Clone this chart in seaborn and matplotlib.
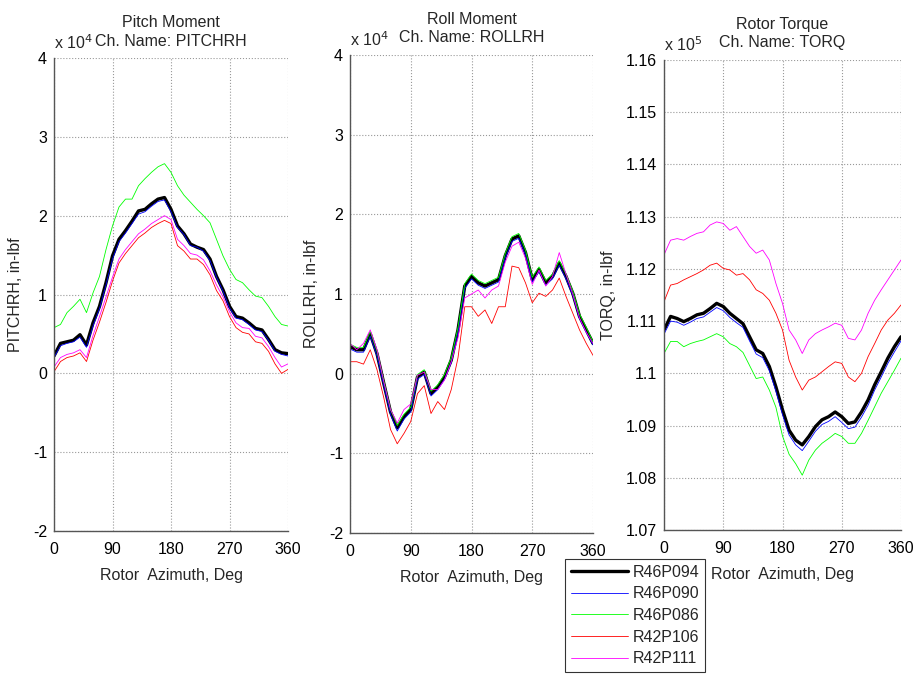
import matplotlib
matplotlib.use("Agg")
import matplotlib.pyplot as plt
import seaborn as sns
from matplotlib.ticker import FuncFormatter

# azimuth grid (deg)
azimuth = list(range(0, 361, 10))

run_names = ["R46P094", "R46P090", "R46P086", "R42P106", "R42P111"]
run_colors = ["black", "#0000ff", "#00ff00", "#ff0000", "#ff00ff"]
run_widths = [2.4, 0.6, 0.6, 0.6, 0.6]

# Pitch moment, x 10^4 in-lbf
pitch_r46p094 = [0.22, 0.38, 0.40, 0.42, 0.49, 0.36, 0.64, 0.85, 1.15, 1.49, 1.70, 1.81, 1.93, 2.06, 2.08, 2.15, 2.21, 2.23, 2.08,
                 1.87, 1.77, 1.64, 1.60, 1.57, 1.45, 1.23, 1.06, 0.85, 0.72, 0.70, 0.64, 0.57, 0.55, 0.43, 0.30, 0.26, 0.25]
pitch_r46p090 = [0.20, 0.35, 0.38, 0.40, 0.46, 0.33, 0.60, 0.82, 1.12, 1.45, 1.67, 1.78, 1.90, 2.02, 2.05, 2.12, 2.18, 2.20, 2.05,
                 1.85, 1.76, 1.62, 1.60, 1.55, 1.43, 1.22, 1.04, 0.83, 0.70, 0.68, 0.62, 0.55, 0.53, 0.42, 0.28, 0.24, 0.22]
pitch_r46p086 = [0.58, 0.62, 0.77, 0.85, 0.94, 0.77, 1.02, 1.23, 1.57, 1.87, 2.11, 2.21, 2.21, 2.38, 2.47, 2.55, 2.62, 2.66, 2.55,
                 2.38, 2.26, 2.17, 2.08, 2.00, 1.91, 1.70, 1.49, 1.32, 1.19, 1.15, 1.06, 0.98, 0.96, 0.85, 0.72, 0.62, 0.60]
pitch_r42p106 = [0.02, 0.15, 0.20, 0.22, 0.26, 0.15, 0.42, 0.65, 0.90, 1.17, 1.40, 1.52, 1.62, 1.72, 1.78, 1.85, 1.90, 1.94, 1.90,
                 1.62, 1.55, 1.45, 1.45, 1.38, 1.25, 1.05, 0.92, 0.72, 0.58, 0.52, 0.50, 0.40, 0.38, 0.28, 0.12, 0.00, 0.05]
pitch_r42p111 = [0.08, 0.20, 0.24, 0.26, 0.30, 0.20, 0.48, 0.72, 0.97, 1.22, 1.45, 1.57, 1.67, 1.77, 1.83, 1.90, 1.95, 2.00, 1.95,
                 1.70, 1.62, 1.52, 1.50, 1.44, 1.30, 1.12, 0.97, 0.78, 0.64, 0.58, 0.57, 0.47, 0.45, 0.34, 0.20, 0.08, 0.12]

# Roll moment, x 10^4 in-lbf
roll_r46p094 = [0.34, 0.30, 0.30, 0.50, 0.25, -0.12, -0.48, -0.68, -0.54, -0.45, -0.04, 0.02, -0.25, -0.17, -0.04, 0.17, 0.55, 1.10, 1.22,
                1.14, 1.10, 1.14, 1.18, 1.48, 1.69, 1.73, 1.52, 1.18, 1.31, 1.14, 1.22, 1.39, 1.22, 1.01, 0.72, 0.55, 0.38]
roll_r46p090 = [0.31, 0.27, 0.27, 0.47, 0.22, -0.15, -0.51, -0.72, -0.57, -0.48, -0.07, -0.01, -0.28, -0.20, -0.07, 0.14, 0.52, 1.07, 1.19,
                1.11, 1.07, 1.11, 1.15, 1.45, 1.66, 1.70, 1.49, 1.15, 1.28, 1.11, 1.19, 1.36, 1.19, 0.98, 0.69, 0.52, 0.36]
roll_r46p086 = [0.37, 0.33, 0.33, 0.53, 0.28, -0.09, -0.45, -0.65, -0.51, -0.42, -0.01, 0.05, -0.22, -0.14, -0.01, 0.20, 0.58, 1.13, 1.25,
                1.17, 1.13, 1.17, 1.21, 1.51, 1.72, 1.76, 1.55, 1.21, 1.34, 1.17, 1.25, 1.42, 1.25, 1.04, 0.75, 0.58, 0.40]
roll_r42p106 = [0.15, 0.15, 0.12, 0.30, 0.05, -0.30, -0.70, -0.88, -0.75, -0.60, -0.25, -0.15, -0.50, -0.35, -0.45, -0.20, 0.20, 0.84, 0.84,
                0.72, 0.80, 0.63, 0.84, 0.84, 1.35, 1.33, 1.14, 0.89, 1.01, 0.97, 1.05, 1.20, 0.97, 0.76, 0.55, 0.38, 0.23]
roll_r42p111 = [0.38, 0.30, 0.38, 0.55, 0.30, -0.10, -0.45, -0.62, -0.45, -0.38, -0.02, 0.02, -0.20, -0.20, -0.08, 0.15, 0.45, 0.95, 1.00,
                1.05, 0.95, 1.05, 1.10, 1.40, 1.60, 1.65, 1.45, 1.12, 1.30, 1.10, 1.22, 1.52, 1.25, 1.00, 0.70, 0.52, 0.38]

# Rotor torque, x 10^5 in-lbf
torq_r46p094 = [1.1083, 1.1109, 1.1105, 1.1099, 1.1105, 1.1112, 1.1115, 1.1124, 1.1134, 1.1128, 1.1115, 1.1105, 1.1095,
                1.1070, 1.1045, 1.1038, 1.1013, 1.0974, 1.0930, 1.0891, 1.0872, 1.0863, 1.0879, 1.0898, 1.0911, 1.0917,
                1.0926, 1.0917, 1.0904, 1.0907, 1.0926, 1.0949, 1.0978, 1.1003, 1.1029, 1.1051, 1.1070]
torq_r46p090 = [1.1075, 1.1100, 1.1098, 1.1092, 1.1098, 1.1105, 1.1108, 1.1117, 1.1126, 1.1120, 1.1107, 1.1097, 1.1088,
                1.1062, 1.1037, 1.1030, 1.1005, 1.0966, 1.0921, 1.0882, 1.0863, 1.0852, 1.0870, 1.0889, 1.0902, 1.0908,
                1.0917, 1.0906, 1.0894, 1.0897, 1.0916, 1.0939, 1.0968, 1.0993, 1.1019, 1.1041, 1.1062]
torq_r46p086 = [1.1038, 1.1061, 1.1061, 1.1051, 1.1057, 1.1061, 1.1064, 1.1070, 1.1076, 1.1070, 1.1057, 1.1051, 1.1040,
                1.1015, 1.0990, 1.0993, 1.0968, 1.0935, 1.0880, 1.0845, 1.0827, 1.0805, 1.0834, 1.0853, 1.0866, 1.0875,
                1.0885, 1.0879, 1.0866, 1.0866, 1.0885, 1.0910, 1.0936, 1.0962, 1.0984, 1.1006, 1.1029]
torq_r42p106 = [1.1137, 1.1169, 1.1172, 1.1179, 1.1185, 1.1191, 1.1198, 1.1207, 1.1211, 1.1201, 1.1198, 1.1188, 1.1191,
                1.1179, 1.1160, 1.1153, 1.1140, 1.1115, 1.1083, 1.1025, 1.0993, 1.0968, 1.0987, 1.0993, 1.1003, 1.1013,
                1.1022, 1.1019, 1.0993, 1.0984, 1.1000, 1.1032, 1.1057, 1.1083, 1.1102, 1.1115, 1.1131]
torq_r42p111 = [1.1227, 1.1255, 1.1258, 1.1255, 1.1262, 1.1268, 1.1271, 1.1284, 1.1290, 1.1287, 1.1274, 1.1281, 1.1262,
                1.1243, 1.1230, 1.1236, 1.1217, 1.1172, 1.1134, 1.1083, 1.1064, 1.1038, 1.1064, 1.1076, 1.1083, 1.1089,
                1.1096, 1.1092, 1.1067, 1.1064, 1.1083, 1.1115, 1.1140, 1.1160, 1.1179, 1.1198, 1.1217]

panels = [
    ("Pitch Moment\nCh. Name: PITCHRH", "PITCHRH, in-lbf", 4,
     [pitch_r46p094, pitch_r46p090, pitch_r46p086, pitch_r42p106, pitch_r42p111], (-2, 4), [-2, -1, 0, 1, 2, 3, 4]),
    ("Roll Moment\nCh. Name: ROLLRH", "ROLLRH, in-lbf", 4,
     [roll_r46p094, roll_r46p090, roll_r46p086, roll_r42p106, roll_r42p111], (-2, 4), [-2, -1, 0, 1, 2, 3, 4]),
    ("Rotor Torque\nCh. Name: TORQ", "TORQ, in-lbf", 5,
     [torq_r46p094, torq_r46p090, torq_r46p086, torq_r42p106, torq_r42p111], (1.07, 1.16),
     [1.07, 1.08, 1.09, 1.10, 1.11, 1.12, 1.13, 1.14, 1.15, 1.16]),
]

sns.set_theme(style="white")
plt.rcParams["font.family"] = ["Liberation Sans", "DejaVu Sans"]
plt.rcParams["font.size"] = 11.5

fig = plt.figure(figsize=(9.14, 6.79), dpi=100)
axes_pos = [
    [54 / 914, 1 - 531 / 679, 234 / 914, 473 / 679],
    [350 / 914, 1 - 533 / 679, 243 / 914, 478 / 679],
    [664 / 914, 1 - 530 / 679, 237 / 914, 470 / 679],
]

for pos, (title, ylabel, expo, series, ylim, yticks) in zip(axes_pos, panels):
    ax = fig.add_axes(pos)
    for name, color, lw, vals in zip(run_names, run_colors, run_widths, series):
        sns.lineplot(x=azimuth, y=vals, ax=ax, color=color, linewidth=lw, label=name, legend=False)
    ax.set_xlim(0, 360)
    ax.set_ylim(*ylim)
    ax.set_xticks([0, 90, 180, 270, 360])
    ax.set_yticks(yticks)
    ax.yaxis.set_major_formatter(FuncFormatter(lambda v, p: "%g" % round(v, 4)))
    ax.grid(True, linestyle=":", color="#999999", linewidth=0.8)
    ax.tick_params(direction="in", length=4, width=0.8, colors="#333333", labelcolor="black", labelsize=11.5, pad=5)
    ax.tick_params(axis="x", pad=8)
    for side in ["top", "right"]:
        ax.spines[side].set_visible(False)
    for side in ["left", "bottom"]:
        ax.spines[side].set_color("#555555")
        ax.spines[side].set_linewidth(1.0)
    ax.set_title(title, fontsize=11.5, pad=9, linespacing=1.3)
    ax.set_xlabel("Rotor  Azimuth, Deg", fontsize=11.5, labelpad=8)
    ax.set_ylabel(ylabel, fontsize=11.5, labelpad=7)
    ax.text(0, 1.012, r"x 10$^{%d}$" % expo, transform=ax.transAxes, ha="left", va="bottom", fontsize=11.5)

handles, labels = fig.axes[0].get_legend_handles_labels()
leg = fig.legend(handles, labels, loc="upper left", bbox_to_anchor=(565 / 914, 1 - 559 / 679),
                 frameon=True, fancybox=False, edgecolor="black", fontsize=11.5,
                 handlelength=3.6, handletextpad=0.3, borderpad=0.35, labelspacing=0.42, borderaxespad=0)
leg.get_frame().set_linewidth(0.8)

fig.savefig("out.png", dpi=100, facecolor="white")
